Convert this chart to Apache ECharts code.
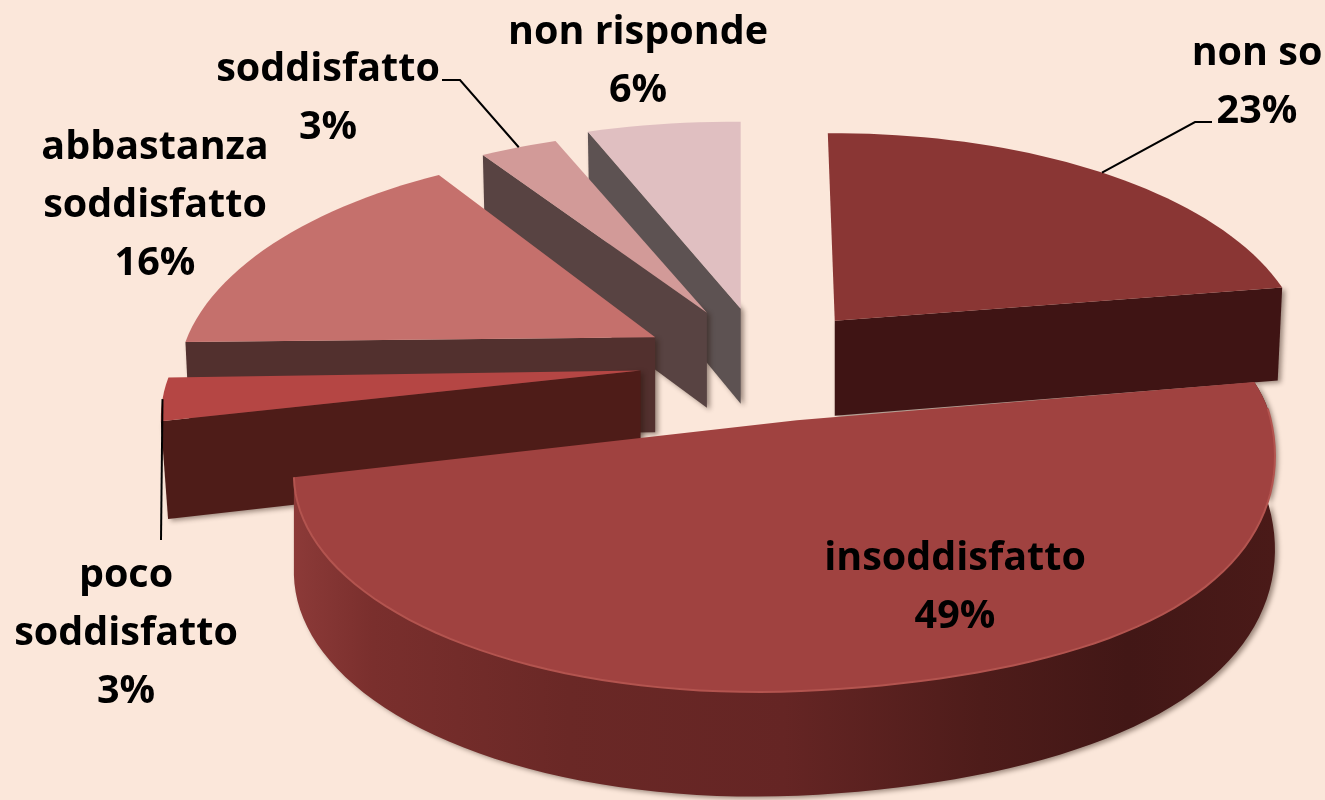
<!DOCTYPE html>
<html>
<head>
<meta charset="utf-8">
<title>Soddisfazione</title>
<script src="https://cdn.jsdelivr.net/npm/echarts@6/dist/echarts.min.js"></script>
<style>
  html, body { margin: 0; padding: 0; background: #fbe7da; overflow: hidden; }
  #chart { width: 1325px; height: 800px; }
</style>
</head>
<body>
<div id="chart"></div>
<script>
// clockwise from 12 o'clock
const categories = ["non so", "insoddisfatto", "poco\nsoddisfatto", "abbastanza\nsoddisfatto", "soddisfatto", "non risponde"];
const values = [23, 49, 3, 16, 3, 6];

const topColors = ["#8a3634", "#a04240", "#b54644", "#c5706c", "#d29a98", "#e0bfc1"];
const wallColors = ["#3f1414", "#4e1c18", "#4e1c18", "#52302e", "#584342", "#5d5252"];
const paintOrder = [4, 5, 3, 2, 1, 0];

// pie geometry, px
const centerX = 770, centerY = 365;
const radiusX = 465, radiusY = 222, depth = 95;
const perspY = 0.175, perspX = 0.025;
const explodes = [110, 127, 130, 131, 128, 135];
const nudgeX = [-8, 7, 0, 0, -5, -4];
const nudgeY = [-8, 0, 0, 0, -2, 2];
const scales = [1.018, 1.038, 0.99, 0.985, 1.02, 1.03];
const flatten = [0.975, 0.97, 1, 1.01, 0.95, 0.96];
const skews = [0.015, 0.025, 0.015, 0.01, 0.01, 0];
const leans = [0.037, 0, 0, 0, 0, 0];
const tapers = [0.99, 1, 0.985, 0.99, 0.99, 0.99];
const bulges = [0, 50, 0, 0, 0, 0];

// label centre and middle of the block
const labelX = [1257, 955, 126, 155, 328, 638];
const labelY = [83, 588, 634, 206, 99, 62];
// leader ends, null when there is no leader
const leaderEnds = [[[1195, 122], [1212, 122]], null, [[161, 540]], null, [[460, 80], [442, 80]], null];

const total = values.reduce((a, b) => a + b, 0);
const rad = (d) => (d * Math.PI) / 180;

function sliceAngles(i) {
  let start = 0;
  for (let k = 0; k < i; k++) start += (values[k] / total) * 360;
  return [start, start + (values[i] / total) * 360];
}

function apexOf(i) {
  const [a0, a1] = sliceAngles(i);
  const mid = rad((a0 + a1) / 2);
  const ex = explodes[i] * Math.sin(mid);
  const ey = explodes[i] * -Math.cos(mid) * 0.44;
  return [centerX + ex + nudgeX[i], centerY + ey + nudgeY[i]];
}

// point on the rim of slice i at angle a (deg), drop = true for the lower rim
function rimPoint(i, a, drop) {
  const apex = apexOf(i);
  const u = Math.sin(rad(a));
  const v = -Math.cos(rad(a));
  const raw = 1 / (1 - perspY * v + perspX * u);
  const s = raw * scales[i];
  const dx = radiusX * u * s;
  const dy = radiusY * v * s * flatten[i] - dx * skews[i];
  const x = dx + leans[i] * dy;
  // the front right of the big slice sags a little in the picture
  const sag = bulges[i] * Math.max(u, 0) ** 2 * Math.max(v, 0);
  if (drop) return [apex[0] + x * tapers[i], apex[1] + dy + sag * 0.8 + depth * Math.sqrt(raw)];
  return [apex[0] + x, apex[1] + dy + sag];
}

function arcPoints(i, from, to, drop) {
  const pts = [];
  const steps = Math.max(2, Math.ceil(Math.abs(to - from) / 2));
  for (let n = 0; n <= steps; n++) {
    pts.push(rimPoint(i, from + ((to - from) * n) / steps, drop));
  }
  return pts;
}

const wallShadow = {
  shadowBlur: 5,
  shadowColor: "rgba(40,20,10,0.45)",
  shadowOffsetX: 3,
  shadowOffsetY: 2,
};

function flatWall(i, a, z2) {
  const apex = apexOf(i);
  const outer = rimPoint(i, a, false);
  const outerLow = rimPoint(i, a, true);
  return {
    type: "polygon",
    z2,
    shape: { points: [apex, outer, outerLow, [apex[0], apex[1] + depth]] },
    style: { fill: wallColors[i], ...wallShadow },
  };
}

function renderSlice(params) {
  const i = params.dataIndex;
  const base = paintOrder[i] * 10;
  const [a0, a1] = sliceAngles(i);
  const apex = apexOf(i);
  const children = [];

  // cut faces turned to the viewer
  if (Math.sin(rad(a0)) < 0) children.push(flatWall(i, a0, base));
  if (Math.sin(rad(a1)) > 0) children.push(flatWall(i, a1, base));

  // outer wall, front half only, skipped on the thin slices
  const f0 = Math.max(a0, 90);
  const f1 = Math.min(a1, 270);
  const bigFront = f1 - f0 > 30;
  if (bigFront) {
    const pts = arcPoints(i, a0, f1, false).concat(arcPoints(i, f1, a0, true));
    children.push({
      type: "polygon",
      z2: base + 1,
      shape: { points: pts },
      style: {
        fill: new echarts.graphic.LinearGradient(0, 0, 1, 0, [
          { offset: 0, color: "#8c3a38" },
          { offset: 0.08, color: "#7a2f2d" },
          { offset: 0.28, color: "#6a2826" },
          { offset: 0.5, color: "#652524" },
          { offset: 0.7, color: "#4e1c1a" },
          { offset: 0.85, color: "#421716" },
          { offset: 1, color: "#4a1a18" },
        ]),
        ...wallShadow,
      },
    });
  }

  children.push({
    type: "polygon",
    z2: base + 2,
    shape: { points: [apex].concat(arcPoints(i, a0, a1, false)) },
    style: { fill: topColors[i] },
  });

  // lit rim on the front edge
  if (bigFront) {
    children.push({
      type: "polyline",
      z2: base + 3,
      shape: { points: arcPoints(i, f0, f1, false) },
      style: { fill: null, stroke: "#b3544f", lineWidth: 2 },
    });
  }

  // leader line from the middle of the outer arc
  if (leaderEnds[i]) {
    children.push({
      type: "polyline",
      z2: 100,
      shape: { points: [rimPoint(i, (a0 + a1) / 2, false)].concat(leaderEnds[i]) },
      style: { fill: null, stroke: "#000", lineWidth: 2 },
    });
  }

  children.push({
    type: "text",
    z2: 110,
    style: {
      text: categories[i] + "\n" + values[i] + "%",
      x: labelX[i],
      y: labelY[i],
      align: "center",
      verticalAlign: "middle",
      fontFamily: "Open Sans",
      fontWeight: "bold",
      fontSize: 39.5,
      lineHeight: 58,
      fill: "#000",
    },
  });

  return { type: "group", children };
}

const chart = echarts.init(document.getElementById("chart"), null, { renderer: "canvas" });
chart.setOption({
  animation: false,
  backgroundColor: "#fbe7da",
  series: [
    {
      type: "custom",
      coordinateSystem: "none",
      data: values,
      renderItem: renderSlice,
      silent: true,
    },
  ],
});
</script>
</body>
</html>
